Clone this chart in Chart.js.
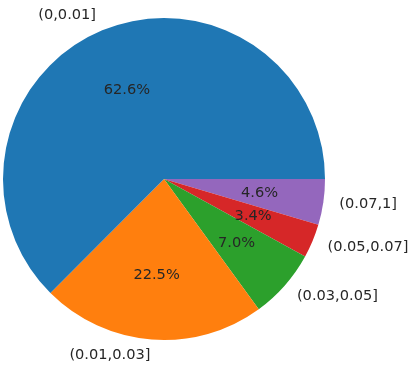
<!DOCTYPE html>
<html>
<head>
<meta charset="utf-8">
<script src="https://cdn.jsdelivr.net/npm/chart.js@4/dist/chart.umd.min.js"></script>
<style>
html,body{margin:0;padding:0;background:#fff;}
#wrap{width:411px;height:367px;position:relative;}
</style>
</head>
<body>
<div id="wrap"><canvas id="c" width="411" height="367"></canvas></div>
<script>
const categories = ['(0,0.01]', '(0.01,0.03]', '(0.03,0.05]', '(0.05,0.07]', '(0.07,1]'];
const shares = [62.6, 22.5, 7.0, 3.4, 4.6];
const colors = ['#1f77b4', '#ff7f0e', '#2ca02c', '#d62728', '#9467bd'];

// matplotlib draws counterclockwise from 3 o'clock; Chart.js draws clockwise,
// so reverse the order and start at 3 o'clock.
const revLabels = categories.slice().reverse();
const revData = shares.slice().reverse();
const revColors = colors.slice().reverse();

const labelPlugin = {
  id: 'mplLabels',
  afterDraw(chart) {
    const ctx = chart.ctx;
    const meta = chart.getDatasetMeta(0);
    ctx.save();
    ctx.font = '14.6px "DejaVu Sans"';
    ctx.fillStyle = '#262626';
    ctx.textBaseline = 'middle';
    meta.data.forEach((arc, i) => {
      const p = arc.getProps(['x', 'y', 'startAngle', 'endAngle', 'outerRadius'], true);
      const mid = (p.startAngle + p.endAngle) / 2;
      const cx = Math.cos(mid), cy = Math.sin(mid);
      ctx.textAlign = 'center';
      const pct = revData[i].toFixed(1) + '%';
      ctx.fillText(pct, p.x + cx * p.outerRadius * 0.6, p.y + cy * p.outerRadius * 0.6);
      ctx.textAlign = cx < 0 ? 'right' : 'left';
      ctx.fillText(revLabels[i], p.x + cx * p.outerRadius * 1.1, p.y + cy * p.outerRadius * 1.1);
    });
    ctx.restore();
  }
};

new Chart(document.getElementById('c'), {
  type: 'pie',
  data: {
    labels: revLabels,
    datasets: [{
      data: revData,
      backgroundColor: revColors,
      borderWidth: 0
    }]
  },
  options: {
    responsive: false,
    devicePixelRatio: 1,
    animation: false,
    rotation: 90,
    layout: { padding: { left: 3, right: 86, top: 18, bottom: 27 } },
    plugins: { legend: { display: false }, tooltip: { enabled: false } }
  },
  plugins: [labelPlugin]
});
</script>
</body>
</html>
